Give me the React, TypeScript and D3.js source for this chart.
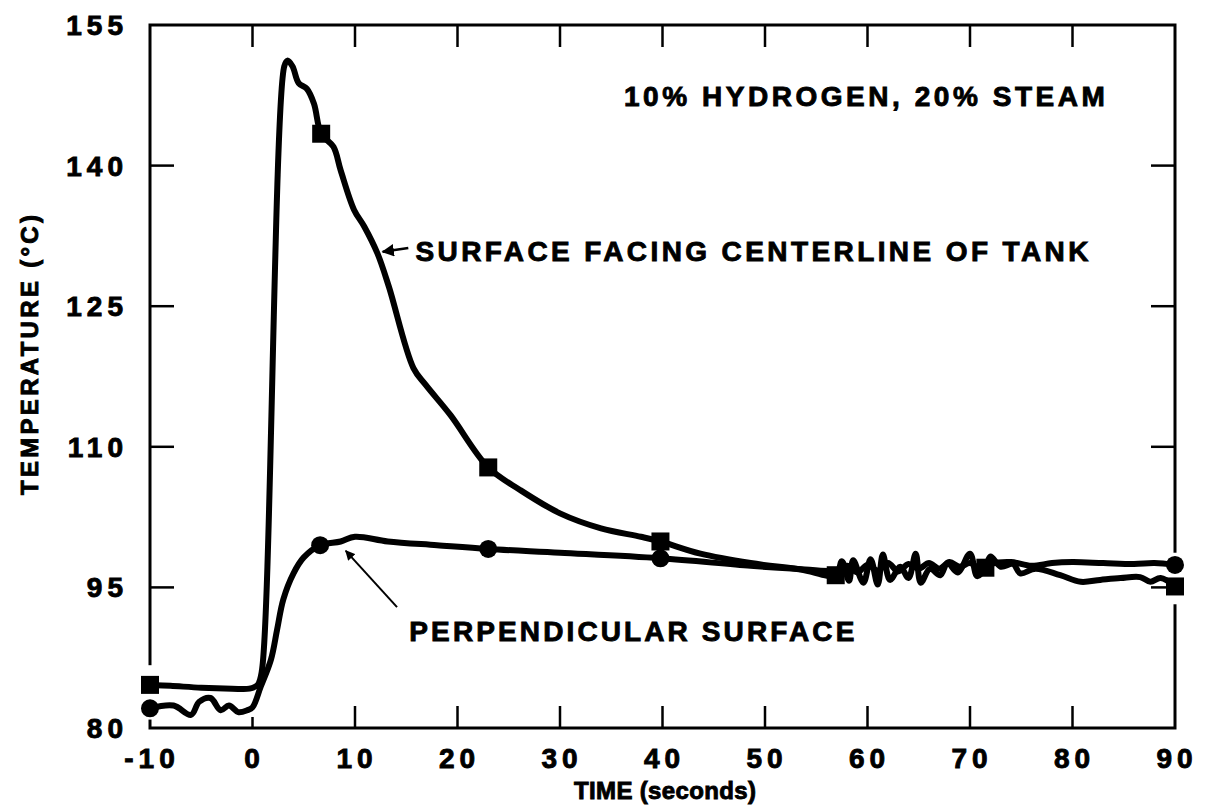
import React from "react";
import * as d3 from "d3";

// ---- data (time in seconds, temperature in °C) ----
const centerTime = [-10, -8, -5, -2, -0.3, 0.5, 0.9, 3.1, 3.4, 3.9, 4.5, 5.3, 6.0, 6.7, 7.9, 8.6, 9.9, 10.9, 12.2, 13.3, 15.7, 16.9, 19.3, 23.0, 26.1, 30.0, 34.0, 37.9, 39.8, 43.7, 48.6, 53.5, 56.9,
  57.5, 58.2, 58.6, 59.6, 60.3, 61.0, 61.5, 62.2, 63.2, 64.0, 64.7, 65.2, 66.1, 67.1, 67.8, 68.8, 70.0, 70.7, 71.5, 72.0, 73.0, 74.2, 74.9, 76.4, 78.8, 80.8, 82.7, 84.7, 86.6, 87.6, 88.6, 90];
const centerTemp = [84.6, 84.5, 84.3, 84.2, 84.2, 84.6, 86.0, 150.6, 151.2, 150.6, 148.8, 148.2, 146.6, 143.4, 142.0, 139.5, 135.3, 133.5, 130.6, 127.1, 118.4, 116.6, 113.4, 107.8, 105.4, 102.9, 101.3, 100.4, 99.9, 98.6, 97.6, 96.9, 96.3,
  97.8, 95.7, 97.9, 95.5, 98.0, 95.3, 98.5, 95.8, 97.2, 96.0, 98.6, 95.5, 97.0, 96.3, 97.6, 96.6, 98.6, 96.2, 97.1, 98.3, 97.2, 97.5, 96.5, 97.0, 96.3, 95.6, 95.8, 96.0, 96.1, 95.6, 96.0, 95.1];
const centerMarkerTime = [-10, 6.7, 23.0, 39.8, 56.9, 71.5, 90];

const perpTime = [-10, -7.7, -6.0, -5.2, -4.1, -3.1, -2.3, -1.4, -0.5, 0.0, 0.8, 1.8, 2.4, 3.0, 4.0, 5.0, 6.6, 8.6, 10.0, 13.2, 18.0, 23.0, 30.0, 39.8, 48.6, 53.0, 56.9,
  58, 59, 60, 61, 62, 63, 64, 65, 66, 67, 68, 69, 70, 71, 72, 74, 76, 78, 80, 83, 86, 88, 90];
const perpTemp = [82.1, 82.4, 81.4, 82.8, 83.2, 81.9, 82.4, 81.7, 81.9, 82.2, 84.4, 87.3, 90.5, 93.7, 96.5, 98.2, 99.5, 99.9, 100.4, 99.9, 99.5, 99.1, 98.7, 98.1, 97.3, 97.0, 96.8,
  97.3, 96.6, 97.4, 96.8, 97.6, 96.7, 97.5, 97.0, 97.6, 97.0, 97.7, 97.2, 97.6, 97.0, 97.5, 97.7, 97.3, 97.6, 97.7, 97.6, 97.5, 97.6, 97.4];
const perpMarkerTime = [-10, 6.6, 23.0, 39.8, 90];

const xTicks = [-10, 0, 10, 20, 30, 40, 50, 60, 70, 80, 90];
const yTicks = [80, 95, 110, 125, 140, 155];

const FONT = "'Liberation Sans', Arial, Helvetica, sans-serif";

export default function App() {
  const W = 1206, H = 807;
  const x = d3.scaleLinear().domain([-10, 90]).range([150, 1175]);
  const y = d3.scaleLinear().domain([80, 155]).range([728, 25]);

  const line = d3.line<[number, number]>()
    .x(d => x(d[0])).y(d => y(d[1]))
    .curve(d3.curveCatmullRom.alpha(0.5));

  const centerPts: [number, number][] = centerTime.map((t, i) => [t, centerTemp[i]]);
  const perpPts: [number, number][] = perpTime.map((t, i) => [t, perpTemp[i]]);
  const interp = (ts: number[], vs: number[], t: number) => {
    for (let i = 0; i < ts.length - 1; i++) {
      if (t >= ts[i] && t <= ts[i + 1]) {
        const f = (t - ts[i]) / (ts[i + 1] - ts[i] || 1);
        return vs[i] + f * (vs[i + 1] - vs[i]);
      }
    }
    return vs[vs.length - 1];
  };

  const [x0, x1] = x.range();
  const [yb, yt] = y.range();
  const tickLen = 22;
  const inner = xTicks.slice(1, -1);
  const innerY = yTicks.slice(1, -1);
  const heavy = { stroke: "#000", strokeWidth: 0.9 };

  const ms = 18;
  return (
    <svg width={W} height={H} style={{ position: "absolute", left: 0, top: 0, background: "#fff" }} fontFamily={FONT} fontWeight="bold">
      <defs>
        <marker id="ah" viewBox="0 0 10 10" refX="9" refY="5" markerWidth="5" markerHeight="5" orient="auto-start-reverse">
          <path d="M0,0 L10,5 L0,10 z" fill="#000" />
        </marker>
      </defs>
      {/* frame */}
      <rect x={x0} y={yt} width={x1 - x0} height={yb - yt} fill="none" stroke="#000" strokeWidth={3} />
      {/* scan gaps in side axes near end markers */}
      <line x1={x0} x2={x0} y1={y(86.7)} y2={y(80.9)} stroke="#fff" strokeWidth={6} />
      <line x1={x1} x2={x1} y1={y(98.7)} y2={y(93.2)} stroke="#fff" strokeWidth={6} />
      {inner.map(t => (
        <g key={"xt" + t}>
          <line x1={x(t)} x2={x(t)} y1={yb} y2={yb - (t === 0 ? 11 : tickLen)} stroke="#000" strokeWidth={2.5} />
          <line x1={x(t)} x2={x(t)} y1={yt} y2={yt + tickLen} stroke="#000" strokeWidth={2.5} />
        </g>
      ))}
      {innerY.map(v => (
        <g key={"yt" + v}>
          <line x1={x0} x2={x0 + tickLen + 2} y1={y(v)} y2={y(v)} stroke="#000" strokeWidth={2.5} />
          <line x1={x1} x2={x1 - tickLen - 2} y1={y(v)} y2={y(v)} stroke="#000" strokeWidth={2.5} />
        </g>
      ))}
      {/* tick labels */}
      {xTicks.map(t => (
        <text key={"xl" + t} x={x(t) + 2} y={yb + 40} fontSize={28} letterSpacing={5} textAnchor="middle" {...heavy}>{t < 0 ? "-" + Math.abs(t) : t}</text>
      ))}
      {yTicks.map(v => (
        <text key={"yl" + v} x={x0 - 22} y={y(v) + 10} fontSize={28} letterSpacing={5} textAnchor="end" {...heavy}>{v}</text>
      ))}
      {/* axis titles */}
      <text x={665} y={799} fontSize={24} textAnchor="middle" textLength={182} lengthAdjust="spacing" {...heavy}>TIME (seconds)</text>
      <text transform={`translate(38,${355}) rotate(-90)`} fontSize={24} textAnchor="middle" textLength={280} lengthAdjust="spacing" {...heavy}>TEMPERATURE (°C)</text>

      {/* curves */}
      <path d={line(centerPts) || ""} fill="none" stroke="#000" strokeWidth={6} strokeLinejoin="round" strokeLinecap="round" />
      <path d={line(perpPts) || ""} fill="none" stroke="#000" strokeWidth={6} strokeLinejoin="round" strokeLinecap="round" />
      {centerMarkerTime.map(t => (
        <rect key={"sq" + t} x={x(t) - ms / 2} y={y(interp(centerTime, centerTemp, t)) - ms / 2} width={ms} height={ms} fill="#000" />
      ))}
      {perpMarkerTime.map(t => (
        <circle key={"ci" + t} cx={x(t)} cy={y(interp(perpTime, perpTemp, t))} r={ms / 2} fill="#000" />
      ))}

      {/* annotations */}
      <text x={x(59.7)} y={y(147.5) + 11} fontSize={28} textAnchor="middle" textLength={481} lengthAdjust="spacing" {...heavy}>10% HYDROGEN, 20% STEAM</text>
      <text x={x(15.9)} y={y(131) + 11} fontSize={28} textLength={673} lengthAdjust="spacing" {...heavy}>SURFACE FACING CENTERLINE OF TANK</text>
      <line x1={x(15.2)} y1={y(131.2)} x2={x(12.7)} y2={y(130.8)} stroke="#000" strokeWidth={2.5} markerEnd="url(#ah)" />
      <text x={x(15.3)} y={y(90.5) + 11} fontSize={28} textLength={445} lengthAdjust="spacing" {...heavy}>PERPENDICULAR SURFACE</text>
      <line x1={x(14.1)} y1={y(92.9)} x2={x(9.1)} y2={y(98.9)} stroke="#000" strokeWidth={2} markerEnd="url(#ah)" />
    </svg>
  );
}
